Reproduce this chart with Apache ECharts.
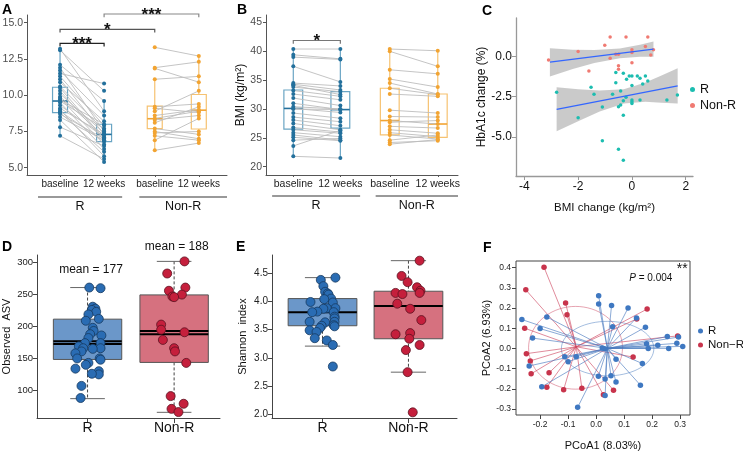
<!DOCTYPE html>
<html>
<head>
<meta charset="utf-8">
<script src="https://cdn.jsdelivr.net/npm/echarts@6/dist/echarts.min.js"></script>
<style>
  html, body { margin: 0; padding: 0; background: #fff; }
  #chart { width: 743px; height: 454px; }
</style>
</head>
<body>
<div id="chart"></div>
<script>
var FONT = '"Liberation Sans", Arial, Helvetica, sans-serif';

// ---------- A : HbA1c, paired ----------
var posA = [1, 2, 3.15, 4.15];
var pairLabels = ['baseline', '12 weeks', 'baseline', '12 weeks'];
var groupNames = ['R', 'Non-R'];
var hbaRBase = [13.2, 13.1, 12.1, 11.9, 11.7, 11.5, 11.3, 11.1, 10.9, 10.6, 10.5, 10.3, 10.1, 9.9, 9.8, 9.7, 9.6, 9.5, 9.3, 9.1, 9.0, 8.9, 8.8, 8.7, 8.5, 8.3, 7.8, 7.2];
var hbaR12   = [8.9, 10.3, 9.6, 7.5, 8.6, 10.8, 7.9, 7.3, 8.2, 7.6, 7.0, 6.9, 7.4, 7.2, 6.6, 8.0, 7.7, 6.3, 7.1, 7.3, 5.8, 6.8, 6.1, 7.0, 6.9, 5.4, 6.5, 5.6];
var hbaNBase = [13.3, 11.9, 11.85, 11.1, 9.2, 9.1, 8.9, 8.6, 8.4, 8.3, 8.1, 7.7, 7.5, 7.4, 7.2, 6.9, 6.2];
var hbaN12   = [12.7, 12.3, 10.9, 11.3, 9.4, 8.8, 10.3, 9.0, 8.9, 8.6, 9.2, 7.3, 7.0, 7.5, 6.9, 8.4, 6.7];
// min, q1, median, q3, max
var hbaBox = [[7.25, 8.8, 9.6, 10.55, 13.2], [5.4, 6.8, 7.3, 8.0, 9.6], [6.2, 7.7, 8.38, 9.25, 11.1], [6.7, 7.67, 8.97, 10.05, 12.7]];
var hbaTicks = [5, 7.5, 10, 12.5, 15];
var hbaSig = [[1, 2, 13.57, 13.35, '***', '#222'], [1, 3.15, 14.54, 14.33, '*', '#555'], [2, 4.15, 15.6, 15.37, '***', '#888']];
var hbaGroupSpan = [[0.5, 2.41], [2.8, 4.79]];

// ---------- B : BMI, paired ----------
var posB = [1, 2, 3.05, 4.07];
var bmiRBase = [40.4, 39.4, 39.0, 37.4, 34.5, 34.3, 34.1, 33.8, 33.2, 32.6, 31.9, 31.0, 30.4, 30.1, 30.0, 29.3, 28.6, 28.1, 27.5, 26.8, 26.4, 25.9, 25.5, 25.1, 24.6, 23.6, 21.8];
var bmiR12   = [40.4, 38.7, 38.6, 34.7, 34.0, 33.3, 32.5, 33.0, 32.2, 31.6, 30.6, 29.9, 30.0, 29.4, 29.9, 28.4, 27.8, 27.1, 26.4, 26.0, 25.8, 25.2, 24.6, 24.5, 24.9, 26.3, 21.5];
var bmiNBase = [40.4, 40.0, 36.8, 35.2, 34.5, 33.6, 32.6, 29.8, 28.7, 28.0, 27.7, 27.0, 26.4, 25.9, 25.5, 24.6, 24.2, 23.9];
var bmiN12   = [40.1, 37.4, 36.1, 33.8, 32.6, 32.5, 32.2, 29.3, 28.6, 27.4, 28.0, 26.7, 25.8, 25.2, 24.8, 25.5, 24.5, 24.7];
var bmiBox = [[21.8, 26.5, 30.1, 33.3, 40.4], [21.5, 26.7, 29.9, 33.0, 40.4], [23.9, 25.5, 28.0, 33.6, 40.4], [24.5, 25.1, 27.4, 32.6, 40.1]];
var bmiTicks = [20, 25, 30, 35, 40, 45];
var bmiSig = [[1, 2, 41.88, 41.3, '*', '#777']];
var bmiGroupSpan = [[0.55, 2.42], [2.75, 4.5]];

// ---------- C : change scatter ----------
var cRX = [-2.8, -2.0, -1.52, -1.41, -1.1, -1.1, -0.72, -0.6, -0.6, -0.5, -0.5, -0.42, -0.42, -0.32, -0.32, -0.32, -0.32, -0.22, -0.2, -0.1, 0.0, 0.0, 0.0, 0.0, 0.0, 0.2, 0.3, 0.3, 0.4, 0.5, 0.59, 1.3, 1.69];
var cRY = [-2.23, -3.81, -1.92, -2.35, -3.15, -5.25, -2.35, -1.63, -1.0, -3.12, -5.77, -2.15, -3.02, -1.04, -3.65, -2.75, -6.46, -2.54, -1.42, -1.21, -1.21, -1.81, -2.71, -2.81, -2.92, -1.21, -1.35, -2.71, -1.71, -1.21, -1.52, -2.71, -2.4];
var cNX = [-3.1, -2.0, -1.6, -1.01, -0.81, -0.81, -0.6, -0.5, -0.5, -0.5, -0.22, 0.0, 0.0, 0.0, 0.5, 0.59, 0.7, 0.8];
var cNY = [-0.21, 0.31, -0.9, 0.71, 1.21, -0.1, 0.15, 0.15, -0.58, -0.79, 1.21, 0.42, 0.25, -0.38, 0.63, 1.21, 0.1, 0.42];
var cRFit = [[-2.8, -3.29], [1.7, -1.83]];
var cNFit = [[-3.05, -0.35], [0.8, 0.46]];
var cRBandX  = [-2.8, -2.0, -1.2, -0.3, 0.5, 1.1, 1.7];
var cRBandLo = [-4.66, -4.03, -3.42, -2.93, -2.82, -2.88, -2.93];
var cRBandHi = [-1.92, -2.03, -2.12, -2.03, -1.62, -1.18, -0.73];
var cNBandX  = [-3.05, -2.2, -1.4, -0.45, 0.3, 0.8];
var cNBandLo = [-1.24, -0.77, -0.4, -0.1, -0.01, -0.01];
var cNBandHi = [0.52, 0.43, 0.4, 0.5, 0.73, 0.93];

// ---------- D : observed ASV ----------
var dRJit = [1.02, 1.15, 1.06, 1.09, 1.05, 1.10, 1.01, 1.13, 0.98, 1.06, 1.07, 1.03, 1.16, 1.01, 0.97, 1.15, 0.90, 0.95, 1.15, 1.06, 0.93, 0.86, 0.88, 1.14, 1.15, 1.01, 0.98, 0.86, 1.13, 1.13, 1.05, 0.93, 0.92];
var dRVal = [261, 260, 231, 228, 226, 223, 219, 212, 209, 198, 193, 188, 186, 182, 174, 174, 169, 166, 166, 165, 161, 158, 150, 150, 148, 143, 140, 134, 130, 125, 126, 107, 88];
var dNJit = [2.12, 1.92, 2.13, 1.94, 2.09, 1.98, 2.0, 1.85, 1.85, 2.12, 1.87, 2.0, 2.01, 2.14, 1.96, 2.11, 1.97, 2.05];
var dNVal = [302, 283, 261, 256, 250, 247, 246, 203, 195, 191, 179, 166, 161, 143, 91, 79, 71, 66];
// min, q1, median, q3, max, mean
var dBox = [[87, 148.4, 172.5, 211.5, 261, 177], [65.6, 143.75, 188, 249.5, 302, 193]];
var dTicks = [100, 150, 200, 250, 300];
var dMeanText = ['mean = 177', 'mean = 188'];
var dMeanPos = [[1.04, 288.6], [2.03, 324.5]];

// ---------- E : Shannon ----------
var eRJit = [1.15, 0.98, 1.01, 1.03, 1.06, 1.07, 1.10, 1.02, 1.12, 0.86, 1.15, 1.05, 1.01, 0.94, 0.88, 1.13, 1.14, 1.14, 0.85, 1.14, 1.03, 1.13, 0.99, 1.14, 0.97, 0.85, 0.93, 0.91, 1.05, 1.12, 1.12];
var eRVal = [4.42, 4.38, 4.27, 4.17, 4.14, 4.12, 4.05, 4.04, 3.98, 3.99, 3.88, 3.88, 3.87, 3.82, 3.81, 3.81, 3.73, 3.70, 3.64, 3.64, 3.63, 3.58, 3.57, 3.56, 3.53, 3.49, 3.46, 3.35, 3.31, 3.23, 2.85];
var eNJit = [2.13, 1.92, 1.99, 2.1, 2.14, 2.13, 1.85, 1.93, 1.87, 2.02, 2.15, 2.02, 1.85, 2.01, 2.13, 1.97, 1.99, 2.05];
var eNVal = [4.72, 4.45, 4.34, 4.25, 4.19, 4.15, 4.15, 4.13, 3.96, 3.87, 3.67, 3.44, 3.42, 3.34, 3.23, 3.14, 2.75, 2.04];
var eBox = [[3.21, 3.57, 3.81, 4.05, 4.42], [2.75, 3.34, 3.92, 4.18, 4.72]];
var eTicks = [2.0, 2.5, 3.0, 3.5, 4.0, 4.5];
var catLabels = ['R', 'Non-R'];

// ---------- F : PCoA ----------
var fRX = [-0.265, -0.176, -0.2, -0.227, -0.239, -0.194, -0.112, -0.1, -0.071, -0.066, 0.009, 0.009, 0.055, 0.114, 0.059, 0.176, 0.144, 0.071, 0.008, 0.032, 0.053, 0.071, 0.165, 0.158, 0.032, 0.18, 0.186, 0.22, 0.259, 0.254, 0.288, 0.294, 0.309, 0.022, 0.03];
var fRY = [0.143, 0.156, 0.098, 0.051, -0.087, -0.19, -0.041, -0.066, -0.041, -0.292, 0.261, 0.22, 0.213, 0.2, 0.107, 0.105, 0.151, -0.054, -0.138, -0.152, -0.136, -0.167, -0.075, -0.182, -0.234, 0.023, 0.0, 0.015, 0.0, 0.059, 0.025, 0.056, 0.01, 0.002, -0.002];
var fNX = [-0.186, -0.251, -0.109, -0.104, -0.255, -0.249, -0.235, -0.232, -0.168, -0.176, -0.116, -0.051, 0.026, 0.062, 0.132, 0.145, 0.182, 0.291];
var fNY = [0.402, 0.29, 0.225, 0.167, 0.1, -0.026, -0.062, -0.126, -0.121, -0.192, -0.205, -0.198, -0.23, -0.207, -0.043, 0.146, 0.195, 0.062];
var fCenR = [0.04, 0.0];
var fCenN = [-0.071, 0.008];
// cx, cy, rx, ry
var fEllR = [0.041, -0.001, 0.165, 0.135];
var fEllN = [-0.0735, 0.003, 0.1676, 0.205];
var fXTicks = [-0.2, -0.1, 0.0, 0.1, 0.2, 0.3];
var fYTicks = [-0.3, -0.2, -0.1, 0.0, 0.1, 0.2, 0.3, 0.4];

var blue = '#23709c', blueBox = '#6aa5c4', orange = '#f2a432', orangeBox = '#f6c271';

function closestLabel(v, pos, labels) {
  var best = 0;
  for (var i = 1; i < pos.length; i++) if (Math.abs(pos[i] - v) < Math.abs(pos[best] - v)) best = i;
  return labels[best];
}

function valAxis(o) {
  return {
    type: 'value', gridIndex: o.grid, min: o.min, max: o.max,
    name: o.name || '', nameLocation: 'middle', nameGap: o.nameGap || 0,
    nameRotate: o.nameRotate,
    nameTextStyle: { fontFamily: FONT, fontSize: o.nameSize || 12, color: '#111' },
    splitLine: { show: false },
    axisLine: { show: o.line !== false, onZero: false, lineStyle: { color: o.lineColor || '#555', width: o.lineWidth || 1 } },
    axisTick: { show: !!o.tickLen, length: o.tickLen || 0, inside: false, customValues: o.ticks, lineStyle: { color: o.lineColor || '#555' } },
    axisLabel: { customValues: o.ticks, formatter: o.fmt, fontFamily: FONT, fontSize: o.labelSize || 10,
                 color: o.labelColor || '#444', margin: o.margin == null ? 4 : o.margin, hideOverlap: false, showMinLabel: true, showMaxLabel: true }
  };
}

function ggBox(w, strokes, meds) {
  return function (params, api) {
    var i = params.dataIndex, x = api.value(0);
    var lo = api.coord([x, api.value(1)]), q1 = api.coord([x + w / 2, api.value(2)]);
    var md = api.coord([x, api.value(3)]), q3 = api.coord([x - w / 2, api.value(4)]);
    var hi = api.coord([x, api.value(5)]);
    return { type: 'group', children: [
      { type: 'line', shape: { x1: hi[0], y1: hi[1], x2: hi[0], y2: q3[1] }, style: { stroke: strokes[i], lineWidth: 1.2 } },
      { type: 'line', shape: { x1: lo[0], y1: q1[1], x2: lo[0], y2: lo[1] }, style: { stroke: strokes[i], lineWidth: 1.2 } },
      { type: 'rect', shape: { x: q3[0], y: q3[1], width: q1[0] - q3[0], height: q1[1] - q3[1] },
        style: { fill: 'rgba(255,255,255,0.3)', stroke: strokes[i], lineWidth: 1.2 } },
      { type: 'line', shape: { x1: q3[0], y1: md[1], x2: q1[0], y2: md[1] }, style: { stroke: meds[i], lineWidth: 1.6 } }
    ] };
  };
}

function baseBox(w, capW, fills, hasMean) {
  return function (params, api) {
    var i = params.dataIndex, x = api.value(0);
    var lo = api.coord([x, api.value(1)]), q1 = api.coord([x + w / 2, api.value(2)]);
    var md = api.coord([x, api.value(3)]), q3 = api.coord([x - w / 2, api.value(4)]);
    var hi = api.coord([x, api.value(5)]);
    var capL = api.coord([x - capW / 2, 0])[0], capR = api.coord([x + capW / 2, 0])[0];
    var kids = [
      { type: 'line', shape: { x1: hi[0], y1: hi[1], x2: hi[0], y2: q3[1] }, style: { stroke: '#444', lineWidth: 1, lineDash: [3, 2] } },
      { type: 'line', shape: { x1: lo[0], y1: q1[1], x2: lo[0], y2: lo[1] }, style: { stroke: '#444', lineWidth: 1, lineDash: [3, 2] } },
      { type: 'line', shape: { x1: capL, y1: hi[1], x2: capR, y2: hi[1] }, style: { stroke: '#666', lineWidth: 1 } },
      { type: 'line', shape: { x1: capL, y1: lo[1], x2: capR, y2: lo[1] }, style: { stroke: '#666', lineWidth: 1 } },
      { type: 'rect', shape: { x: q3[0], y: q3[1], width: q1[0] - q3[0], height: q1[1] - q3[1] },
        style: { fill: fills[i], stroke: '#555', lineWidth: 1 } },
      { type: 'line', shape: { x1: q3[0], y1: md[1], x2: q1[0], y2: md[1] }, style: { stroke: '#000', lineWidth: 2 } }
    ];
    if (hasMean) {
      var mn = api.coord([x, api.value(6)]);
      kids.push({ type: 'line', shape: { x1: q3[0], y1: mn[1], x2: q1[0], y2: mn[1] }, style: { stroke: '#000', lineWidth: 2 } });
    }
    return { type: 'group', children: kids };
  };
}

function pairLine(params, api) {
  var a = api.coord([api.value(0), api.value(1)]), b = api.coord([api.value(2), api.value(3)]);
  return { type: 'line', shape: { x1: a[0], y1: a[1], x2: b[0], y2: b[1] }, style: { stroke: '#bdbdbd', lineWidth: 0.9 } };
}

function bracketItem(sig, textSize) {
  return function (params, api) {
    var s = sig[params.dataIndex];
    var a = api.coord([s[0], s[2]]), b = api.coord([s[1], s[2]]), e = api.coord([s[0], s[3]]);
    return { type: 'group', children: [
      { type: 'polyline', shape: { points: [[a[0], e[1]], a, b, [b[0], e[1]]] }, style: { stroke: s[5], lineWidth: 1.2, fill: null } },
      { type: 'text', x: (a[0] + b[0]) / 2, y: a[1] + 1, style: { text: s[4], fontFamily: FONT, fontSize: textSize, fontWeight: 'bold',
        fill: '#111', align: 'center', verticalAlign: 'middle' } }
    ] };
  };
}

function groupAxis(spans, names, yMin, yOff) {
  return function (params, api) {
    var i = params.dataIndex;
    var a = api.coord([spans[i][0], yMin]), b = api.coord([spans[i][1], yMin]);
    var y = a[1] + yOff;
    return { type: 'group', children: [
      { type: 'line', shape: { x1: a[0], y1: y, x2: b[0], y2: y }, style: { stroke: '#777', lineWidth: 1.3 } },
      { type: 'text', x: (a[0] + b[0]) / 2, y: y + 3, style: { text: names[i], fontFamily: FONT, fontSize: 12.5, fill: '#111', align: 'center', verticalAlign: 'top' } }
    ] };
  };
}

function bandItem(bx, lo, hi) {
  return function (params, api) {
    if (params.dataIndex !== 0) return null;
    var pts = [];
    for (var i = 0; i < bx.length; i++) pts.push(api.coord([bx[i], lo[i]]));
    for (var j = bx.length - 1; j >= 0; j--) pts.push(api.coord([bx[j], hi[j]]));
    return { type: 'polygon', shape: { points: pts }, style: { fill: 'rgba(150,150,150,0.5)' } };
  };
}

function ellipseItem(e, color) {
  return function (params, api) {
    var pts = [];
    for (var k = 0; k < 72; k++) {
      var t = k / 72 * Math.PI * 2;
      pts.push(api.coord([e[0] + e[2] * Math.cos(t), e[1] + e[3] * Math.sin(t)]));
    }
    return { type: 'polygon', shape: { points: pts }, style: { fill: null, stroke: color, lineWidth: 0.9 } };
  };
}

function spider(cen, color) {
  return function (params, api) {
    var p = api.coord([api.value(0), api.value(1)]), c = api.coord(cen);
    return { type: 'line', shape: { x1: p[0], y1: p[1], x2: c[0], y2: c[1] }, style: { stroke: color, lineWidth: 0.9 } };
  };
}

function textItem(texts, styles) {
  return function (params, api) {
    var p = api.coord([api.value(0), api.value(1)]);
    var st = Object.assign({ text: texts[params.dataIndex], fill: '#111', fontFamily: FONT, fontSize: 12,
                             align: 'center', verticalAlign: 'middle' }, styles[params.dataIndex] || {});
    return { type: 'text', x: p[0], y: p[1], style: st };
  };
}

function zip(xs, ys) { return xs.map(function (x, i) { return [x, ys[i]]; }); }
function col(x, ys) { return ys.map(function (y) { return [x, y]; }); }
function pairs(x1, a, x2, b) { return a.map(function (v, i) { return [x1, v, x2, b[i]]; }); }
function boxData(pos, box) { return box.map(function (b, i) { return [pos[i]].concat(b); }); }

var chart = echarts.init(document.getElementById('chart'), null, { renderer: 'canvas' });

var grids = [
  { left: 27, top: 15, width: 200, height: 160 },
  { left: 266, top: 15, width: 192, height: 160 },
  { left: 516, top: 18, width: 177, height: 158 },
  { left: 37, top: 255, width: 183, height: 163 },
  { left: 272, top: 255, width: 185, height: 163 },
  { left: 516, top: 261, width: 174, height: 154, show: true, borderColor: '#444', borderWidth: 1, backgroundColor: 'transparent' }
].map(function (g) { return Object.assign({ outerBoundsMode: 'none', containLabel: false }, g); });

var xAxes = [
  valAxis({ grid: 0, min: 0.25, max: 4.79, ticks: posA, fmt: function (v) { return closestLabel(v, posA, pairLabels); }, tickLen: 2, lineColor: '#555',
            labelSize: 10, labelColor: '#222', margin: 4 }),
  valAxis({ grid: 1, min: 0.42, max: 4.5, ticks: posB, fmt: function (v) { return closestLabel(v, posB, pairLabels); }, tickLen: 2, lineColor: '#555',
            labelSize: 10.5, labelColor: '#222', margin: 4 }),
  valAxis({ grid: 2, min: -4.31, max: 2.27, ticks: [-4, -2, 0, 2], fmt: function (v) { return String(v); }, tickLen: 4, lineColor: '#999', lineWidth: 1.3,
            labelSize: 12, labelColor: '#111', margin: 5, name: 'BMI change (kg/m²)', nameGap: 26, nameSize: 11.5 }),
  valAxis({ grid: 3, min: 0.416, max: 2.53, ticks: [1, 2], fmt: function (v) { return closestLabel(v, [1, 2], catLabels); }, tickLen: 5, lineColor: '#444',
            labelSize: 14, labelColor: '#111', margin: 3 }),
  valAxis({ grid: 4, min: 0.412, max: 2.565, ticks: [1, 2], fmt: function (v) { return closestLabel(v, [1, 2], catLabels); }, tickLen: 5, lineColor: '#444',
            labelSize: 14, labelColor: '#111', margin: 3 }),
  valAxis({ grid: 5, min: -0.286, max: 0.335, ticks: fXTicks, fmt: function (v) { return v.toFixed(1); }, tickLen: 4, lineColor: '#444', line: false,
            labelSize: 8.5, labelColor: '#222', margin: 5, name: 'PCoA1 (8.03%)', nameGap: 25, nameSize: 11 })
];

var yAxes = [
  valAxis({ grid: 0, min: 4.5, max: 15.53, ticks: hbaTicks, fmt: function (v) { return v.toFixed(1); }, tickLen: 3, labelSize: 10.5, labelColor: '#4d4d4d',
            name: 'HbA1c (%)', nameGap: 14, nameRotate: 90, nameSize: 12.5 }),
  valAxis({ grid: 1, min: 18.56, max: 46.3, ticks: bmiTicks, fmt: function (v) { return String(v); }, tickLen: 3, labelSize: 10.5, labelColor: '#4d4d4d',
            name: 'BMI (kg/m²)', nameGap: 17, nameRotate: 90, nameSize: 12 }),
  valAxis({ grid: 2, min: -7.44, max: 2.4, ticks: [-5, -2.5, 0], fmt: function (v) { return v.toFixed(1); }, tickLen: 4, lineColor: '#999', lineWidth: 1.3,
            labelSize: 12, labelColor: '#111', margin: 4, name: 'HbA1c change (%)', nameGap: 26, nameRotate: 90, nameSize: 12 }),
  valAxis({ grid: 3, min: 56.7, max: 312, ticks: dTicks, fmt: function (v) { return String(v); }, tickLen: 4, lineColor: '#444', labelSize: 9.5, labelColor: '#222',
            name: 'Observed  ASV', nameGap: 25, nameRotate: 90, nameSize: 11 }),
  valAxis({ grid: 4, min: 1.94, max: 4.82, ticks: eTicks, fmt: function (v) { return v.toFixed(1); }, tickLen: 4, lineColor: '#444', labelSize: 10, labelColor: '#222',
            name: 'Shannon  index', nameGap: 24, nameRotate: 90, nameSize: 11 }),
  valAxis({ grid: 5, min: -0.33, max: 0.433, ticks: fYTicks, fmt: function (v) { return v.toFixed(1); }, tickLen: 4, lineColor: '#444', line: false,
            labelSize: 8.5, labelColor: '#222', margin: 5, name: 'PCoA2 (6.93%)', nameGap: 24, nameRotate: 90, nameSize: 11 })
];

var boxDims = ['x', 'a', 'b', 'c', 'd', 'e'];
var series = [];

// A
series.push({ type: 'custom', xAxisIndex: 0, yAxisIndex: 0, clip: false, dimensions: boxDims, encode: { x: 0, y: [1, 5] },
  renderItem: ggBox(0.34, [blueBox, blueBox, orangeBox, orangeBox], [blue, blue, orange, orange]), data: boxData(posA, hbaBox) });
series.push({ type: 'custom', xAxisIndex: 0, yAxisIndex: 0, dimensions: ['x1', 'y1', 'x2', 'y2'], encode: { x: [0, 2], y: [1, 3] },
  renderItem: pairLine, data: pairs(posA[0], hbaRBase, posA[1], hbaR12).concat(pairs(posA[2], hbaNBase, posA[3], hbaN12)) });
series.push({ type: 'scatter', xAxisIndex: 0, yAxisIndex: 0, symbolSize: 4, itemStyle: { color: blue, opacity: 1 },
  data: col(posA[0], hbaRBase).concat(col(posA[1], hbaR12)) });
series.push({ type: 'scatter', xAxisIndex: 0, yAxisIndex: 0, symbolSize: 4, itemStyle: { color: orange, opacity: 1 },
  data: col(posA[2], hbaNBase).concat(col(posA[3], hbaN12)) });
series.push({ type: 'custom', xAxisIndex: 0, yAxisIndex: 0, clip: false, renderItem: bracketItem(hbaSig, 17),
  data: hbaSig.map(function (s) { return [s[0], s[2]]; }) });
series.push({ type: 'custom', xAxisIndex: 0, yAxisIndex: 0, clip: false, renderItem: groupAxis(hbaGroupSpan, groupNames, 4.5, 22),
  data: hbaGroupSpan.map(function (s) { return [s[0], 4.5]; }) });

// B
series.push({ type: 'custom', xAxisIndex: 1, yAxisIndex: 1, clip: false, dimensions: boxDims, encode: { x: 0, y: [1, 5] },
  renderItem: ggBox(0.4, [blueBox, blueBox, orangeBox, orangeBox], [blue, blue, orange, orange]), data: boxData(posB, bmiBox) });
series.push({ type: 'custom', xAxisIndex: 1, yAxisIndex: 1, dimensions: ['x1', 'y1', 'x2', 'y2'], encode: { x: [0, 2], y: [1, 3] },
  renderItem: pairLine, data: pairs(posB[0], bmiRBase, posB[1], bmiR12).concat(pairs(posB[2], bmiNBase, posB[3], bmiN12)) });
series.push({ type: 'scatter', xAxisIndex: 1, yAxisIndex: 1, symbolSize: 4, itemStyle: { color: blue, opacity: 1 },
  data: col(posB[0], bmiRBase).concat(col(posB[1], bmiR12)) });
series.push({ type: 'scatter', xAxisIndex: 1, yAxisIndex: 1, symbolSize: 4, itemStyle: { color: orange, opacity: 1 },
  data: col(posB[2], bmiNBase).concat(col(posB[3], bmiN12)) });
series.push({ type: 'custom', xAxisIndex: 1, yAxisIndex: 1, clip: false, renderItem: bracketItem(bmiSig, 17),
  data: bmiSig.map(function (s) { return [s[0], s[2]]; }) });
series.push({ type: 'custom', xAxisIndex: 1, yAxisIndex: 1, clip: false, renderItem: groupAxis(bmiGroupSpan, groupNames, 18.56, 21),
  data: bmiGroupSpan.map(function (s) { return [s[0], 18.56]; }) });

// C
series.push({ type: 'custom', xAxisIndex: 2, yAxisIndex: 2, renderItem: bandItem(cRBandX, cRBandLo, cRBandHi), data: zip(cRBandX, cRBandLo) });
series.push({ type: 'custom', xAxisIndex: 2, yAxisIndex: 2, renderItem: bandItem(cNBandX, cNBandLo, cNBandHi), data: zip(cNBandX, cNBandLo) });
series.push({ type: 'line', xAxisIndex: 2, yAxisIndex: 2, data: cRFit, showSymbol: false, lineStyle: { color: '#3366ff', width: 1.4 } });
series.push({ type: 'line', xAxisIndex: 2, yAxisIndex: 2, data: cNFit, showSymbol: false, lineStyle: { color: '#3366ff', width: 1.4 } });
series.push({ name: 'R', type: 'scatter', xAxisIndex: 2, yAxisIndex: 2, symbolSize: 3.5, itemStyle: { color: '#1cbdb0', opacity: 1 }, data: zip(cRX, cRY) });
series.push({ name: 'Non-R', type: 'scatter', xAxisIndex: 2, yAxisIndex: 2, symbolSize: 3.5, itemStyle: { color: '#f07a72', opacity: 1 }, data: zip(cNX, cNY) });

// D
series.push({ type: 'custom', xAxisIndex: 3, yAxisIndex: 3, dimensions: ['x', 'a', 'b', 'c', 'd', 'e', 'f'], encode: { x: 0, y: [1, 5] },
  renderItem: baseBox(0.79, 0.4, ['#6b97c9', '#d6717f'], true), data: boxData([1, 2], dBox) });
series.push({ type: 'scatter', xAxisIndex: 3, yAxisIndex: 3, symbolSize: 9, itemStyle: { color: '#2a6cb3', borderColor: '#173a60', borderWidth: 0.8, opacity: 1 },
  data: zip(dRJit, dRVal) });
series.push({ type: 'scatter', xAxisIndex: 3, yAxisIndex: 3, symbolSize: 9, itemStyle: { color: '#c51f3c', borderColor: '#5c1020', borderWidth: 0.8, opacity: 1 },
  data: zip(dNJit, dNVal) });
series.push({ type: 'custom', xAxisIndex: 3, yAxisIndex: 3, clip: false, renderItem: textItem(dMeanText, [{ fontSize: 12 }, { fontSize: 12 }]), data: dMeanPos });

// E
series.push({ type: 'custom', xAxisIndex: 4, yAxisIndex: 4, dimensions: boxDims, encode: { x: 0, y: [1, 5] },
  renderItem: baseBox(0.8, 0.41, ['#6b97c9', '#d6717f'], false), data: boxData([1, 2], eBox) });
series.push({ type: 'scatter', xAxisIndex: 4, yAxisIndex: 4, symbolSize: 9, itemStyle: { color: '#2a6cb3', borderColor: '#173a60', borderWidth: 0.8, opacity: 1 },
  data: zip(eRJit, eRVal) });
series.push({ type: 'scatter', xAxisIndex: 4, yAxisIndex: 4, symbolSize: 9, itemStyle: { color: '#c51f3c', borderColor: '#5c1020', borderWidth: 0.8, opacity: 1 },
  data: zip(eNJit, eNVal) });

// F
series.push({ type: 'custom', xAxisIndex: 5, yAxisIndex: 5, renderItem: ellipseItem(fEllN, 'rgba(205,70,95,0.55)'), data: [fEllN.slice(0, 2)] });
series.push({ type: 'custom', xAxisIndex: 5, yAxisIndex: 5, renderItem: ellipseItem(fEllR, 'rgba(70,120,190,0.55)'), data: [fEllR.slice(0, 2)] });
series.push({ type: 'custom', xAxisIndex: 5, yAxisIndex: 5, renderItem: spider(fCenN, 'rgba(205,70,95,0.7)'), data: zip(fNX, fNY) });
series.push({ type: 'custom', xAxisIndex: 5, yAxisIndex: 5, renderItem: spider(fCenR, 'rgba(70,120,190,0.7)'), data: zip(fRX, fRY) });
series.push({ name: 'Non−R', type: 'scatter', xAxisIndex: 5, yAxisIndex: 5, symbolSize: 5.5, itemStyle: { color: '#c8344c', opacity: 1 }, data: zip(fNX, fNY) });
series.push({ name: 'R', type: 'scatter', xAxisIndex: 5, yAxisIndex: 5, symbolSize: 5.5, itemStyle: { color: '#3f78c1', opacity: 1 }, data: zip(fRX, fRY) });
series.push({ type: 'custom', xAxisIndex: 5, yAxisIndex: 5, clip: false,
  renderItem: textItem(['{i|P} = 0.004', '**'], [
    { fontSize: 10, rich: { i: { fontStyle: 'italic', fontSize: 10, fontFamily: FONT } } },
    { fontSize: 14 }]),
  data: [[0.195, 0.349], [0.307, 0.392]] });

var letters = [['A', 2, 3], ['B', 237, 3], ['C', 482, 4], ['D', 2, 240], ['E', 236, 240], ['F', 483, 241]];

chart.setOption({
  animation: false,
  backgroundColor: '#fff',
  textStyle: { fontFamily: FONT },
  grid: grids,
  xAxis: xAxes,
  yAxis: yAxes,
  legend: [
    { orient: 'vertical', left: 690, top: 83, itemGap: 3, itemWidth: 5, itemHeight: 5, icon: 'circle', padding: 0,
      textStyle: { fontFamily: FONT, fontSize: 12.5, color: '#111' },
      data: [{ name: 'R', itemStyle: { color: '#1cbdb0' } }, { name: 'Non-R', itemStyle: { color: '#f07a72' } }] },
    { orient: 'vertical', left: 698, top: 325, itemGap: 2, itemWidth: 5, itemHeight: 5, icon: 'circle', padding: 0,
      textStyle: { fontFamily: FONT, fontSize: 11.5, color: '#111' },
      data: [{ name: 'R', itemStyle: { color: '#3f78c1' } }, { name: 'Non−R', itemStyle: { color: '#c8344c' } }] }
  ],
  graphic: letters.map(function (l) {
    return { type: 'text', left: l[1], top: l[2], style: { text: l[0], fontFamily: FONT, fontSize: 14, fontWeight: 'bold', fill: '#000' } };
  }),
  series: series
});
</script>
</body>
</html>
